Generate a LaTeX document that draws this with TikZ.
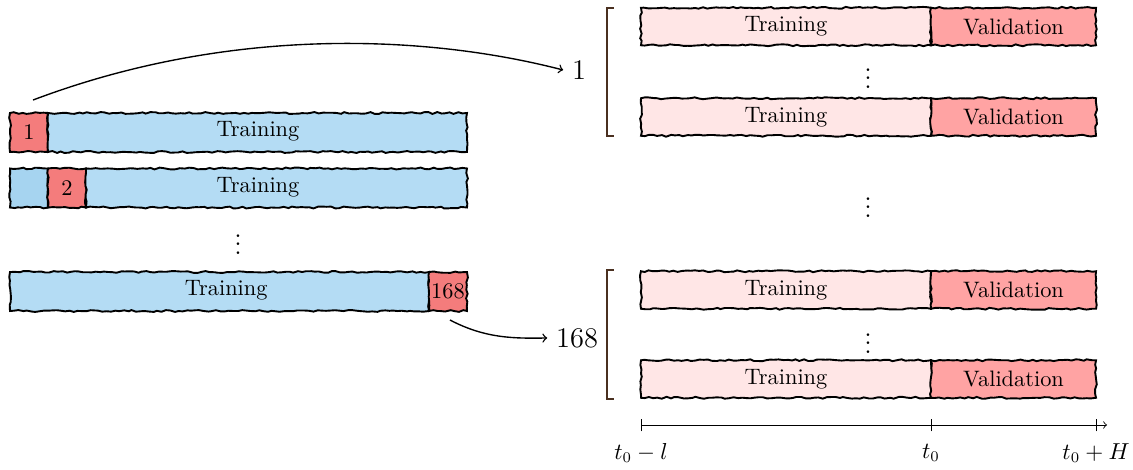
\documentclass[tikz,border=0pt]{standalone}
\usetikzlibrary{decorations.pathmorphing}
\definecolor{bluec}{HTML}{B4DCF4}
\definecolor{bluedk}{HTML}{A6D4F0}
\definecolor{redc}{HTML}{F47C7C}
\definecolor{pinkc}{HTML}{FFE6E6}
\definecolor{valc}{HTML}{FFA3A3}
\definecolor{brack}{HTML}{4A3020}
\begin{document}
\begin{tikzpicture}
\pgfmathsetseed{7}
\tikzset{
  rough/.style={decorate, decoration={random steps, segment length=2pt, amplitude=0.45pt}},
  seg/.style={draw=black, line width=0.9pt, rough, minimum height=0.65cm, inner sep=0pt, outer sep=0pt, anchor=west, font=\fontsize{10.6}{13}\selectfont},
  rseg/.style={seg, minimum height=0.625cm},
  lbl/.style={inner sep=1pt, font=\fontsize{10.6}{13}\selectfont},
  dots/.style={inner sep=1pt, font=\fontsize{13}{15}\selectfont},
  axl/.style={inner sep=1pt, font=\fontsize{10.6}{13}\selectfont},
  big/.style={font=\fontsize{13.5}{16}\selectfont, inner sep=4pt},
  brk/.style={draw=brack, line width=0.8pt},
  conn/.style={->, line width=0.65pt},
}
\useasboundingbox (0,0) rectangle (18.883,-7.833);

% ---------- left bars ----------
% bar 1
\node[seg, fill=redc, minimum width=0.633cm] (r1) at (0.1667,-2.208) {1};
\node[seg, fill=bluec, minimum width=6.983cm] (b1) at (0.8,-2.208) {};
\node[lbl] (t1) at (4.3,-2.19) {Training};
% bar 2
\node[seg, fill=bluedk, minimum width=0.633cm] (p2) at (0.1667,-3.133) {};
\node[seg, fill=redc, minimum width=0.633cm] (r2) at (0.8,-3.133) {2};
\node[seg, fill=bluec, minimum width=6.35cm] (b2) at (1.433,-3.133) {};
\node[lbl] (t2) at (4.3,-3.115) {Training};
% dots
\node[dots] (ld) at (3.967,-3.97) {$\vdots$};
% bar 3
\node[seg, fill=bluec, minimum width=6.983cm] (b3) at (0.1667,-4.858) {};
\node[seg, fill=redc, minimum width=0.633cm] (r3) at (7.15,-4.858) {168};
\node[lbl] (t3) at (3.77,-4.84) {Training};

% ---------- right rows ----------
\node[rseg, fill=pinkc, minimum width=4.833cm] (tr1) at (10.683,-0.442) {Training};
\node[rseg, fill=valc, minimum width=2.75cm] (va1) at (15.517,-0.442) {Validation};
\node[dots] (rd1) at (14.467,-1.2) {$\vdots$};
\node[rseg, fill=pinkc, minimum width=4.833cm] (tr2) at (10.683,-1.95) {Training};
\node[rseg, fill=valc, minimum width=2.75cm] (va2) at (15.517,-1.95) {Validation};

\node[dots] (md) at (14.467,-3.35) {$\vdots$};

\node[rseg, fill=pinkc, minimum width=4.833cm] (tr3) at (10.683,-4.833) {Training};
\node[rseg, fill=valc, minimum width=2.75cm] (va3) at (15.517,-4.833) {Validation};
\node[dots] (rd2) at (14.467,-5.62) {$\vdots$};
\node[rseg, fill=pinkc, minimum width=4.833cm] (tr4) at (10.683,-6.317) {Training};
\node[rseg, fill=valc, minimum width=2.75cm] (va4) at (15.517,-6.317) {Validation};

% brackets
\coordinate (g1a) at (10.233,-0.133);
\coordinate (g1b) at (10.233,-2.267);
\draw[brk] (g1a) -- ++(-0.117,0) |- (g1b);
\coordinate (g2a) at (10.233,-4.5);
\coordinate (g2b) at (10.233,-6.65);
\draw[brk] (g2a) -- ++(-0.117,0) |- (g2b);

% group labels
\node[big] (n1) at (9.65,-1.167) {1};
\node[big] (n168) at (9.617,-5.633) {168};

% connectors
\coordinate (s1) at (0.55,-1.667);
\draw[conn] (s1) .. controls (3.9,-0.4) and (7.2,-0.6) .. (n1.west);
\coordinate (s2) at (7.5,-5.333);
\draw[conn] (s2) .. controls (8.1,-5.65) and (8.6,-5.64) .. (n168.west);

% axis
\coordinate (a0) at (10.683,-7.083);
\coordinate (a1) at (15.517,-7.083);
\coordinate (a2) at (18.267,-7.083);
\coordinate (ae) at (18.45,-7.083);
\draw[->, line width=0.4pt] (a0) -- (ae);
\foreach \p in {a0,a1,a2} \draw[line width=0.4pt] ([yshift=-3pt]\p) -- ([yshift=3pt]\p);
\node[axl] (l0) at (10.683,-7.55) {$t_0 - l$};
\node[axl] (l1) at (15.517,-7.55) {$t_0$};
\node[axl] (l2) at (18.267,-7.55) {$t_0 + H$};
\end{tikzpicture}
\end{document}
